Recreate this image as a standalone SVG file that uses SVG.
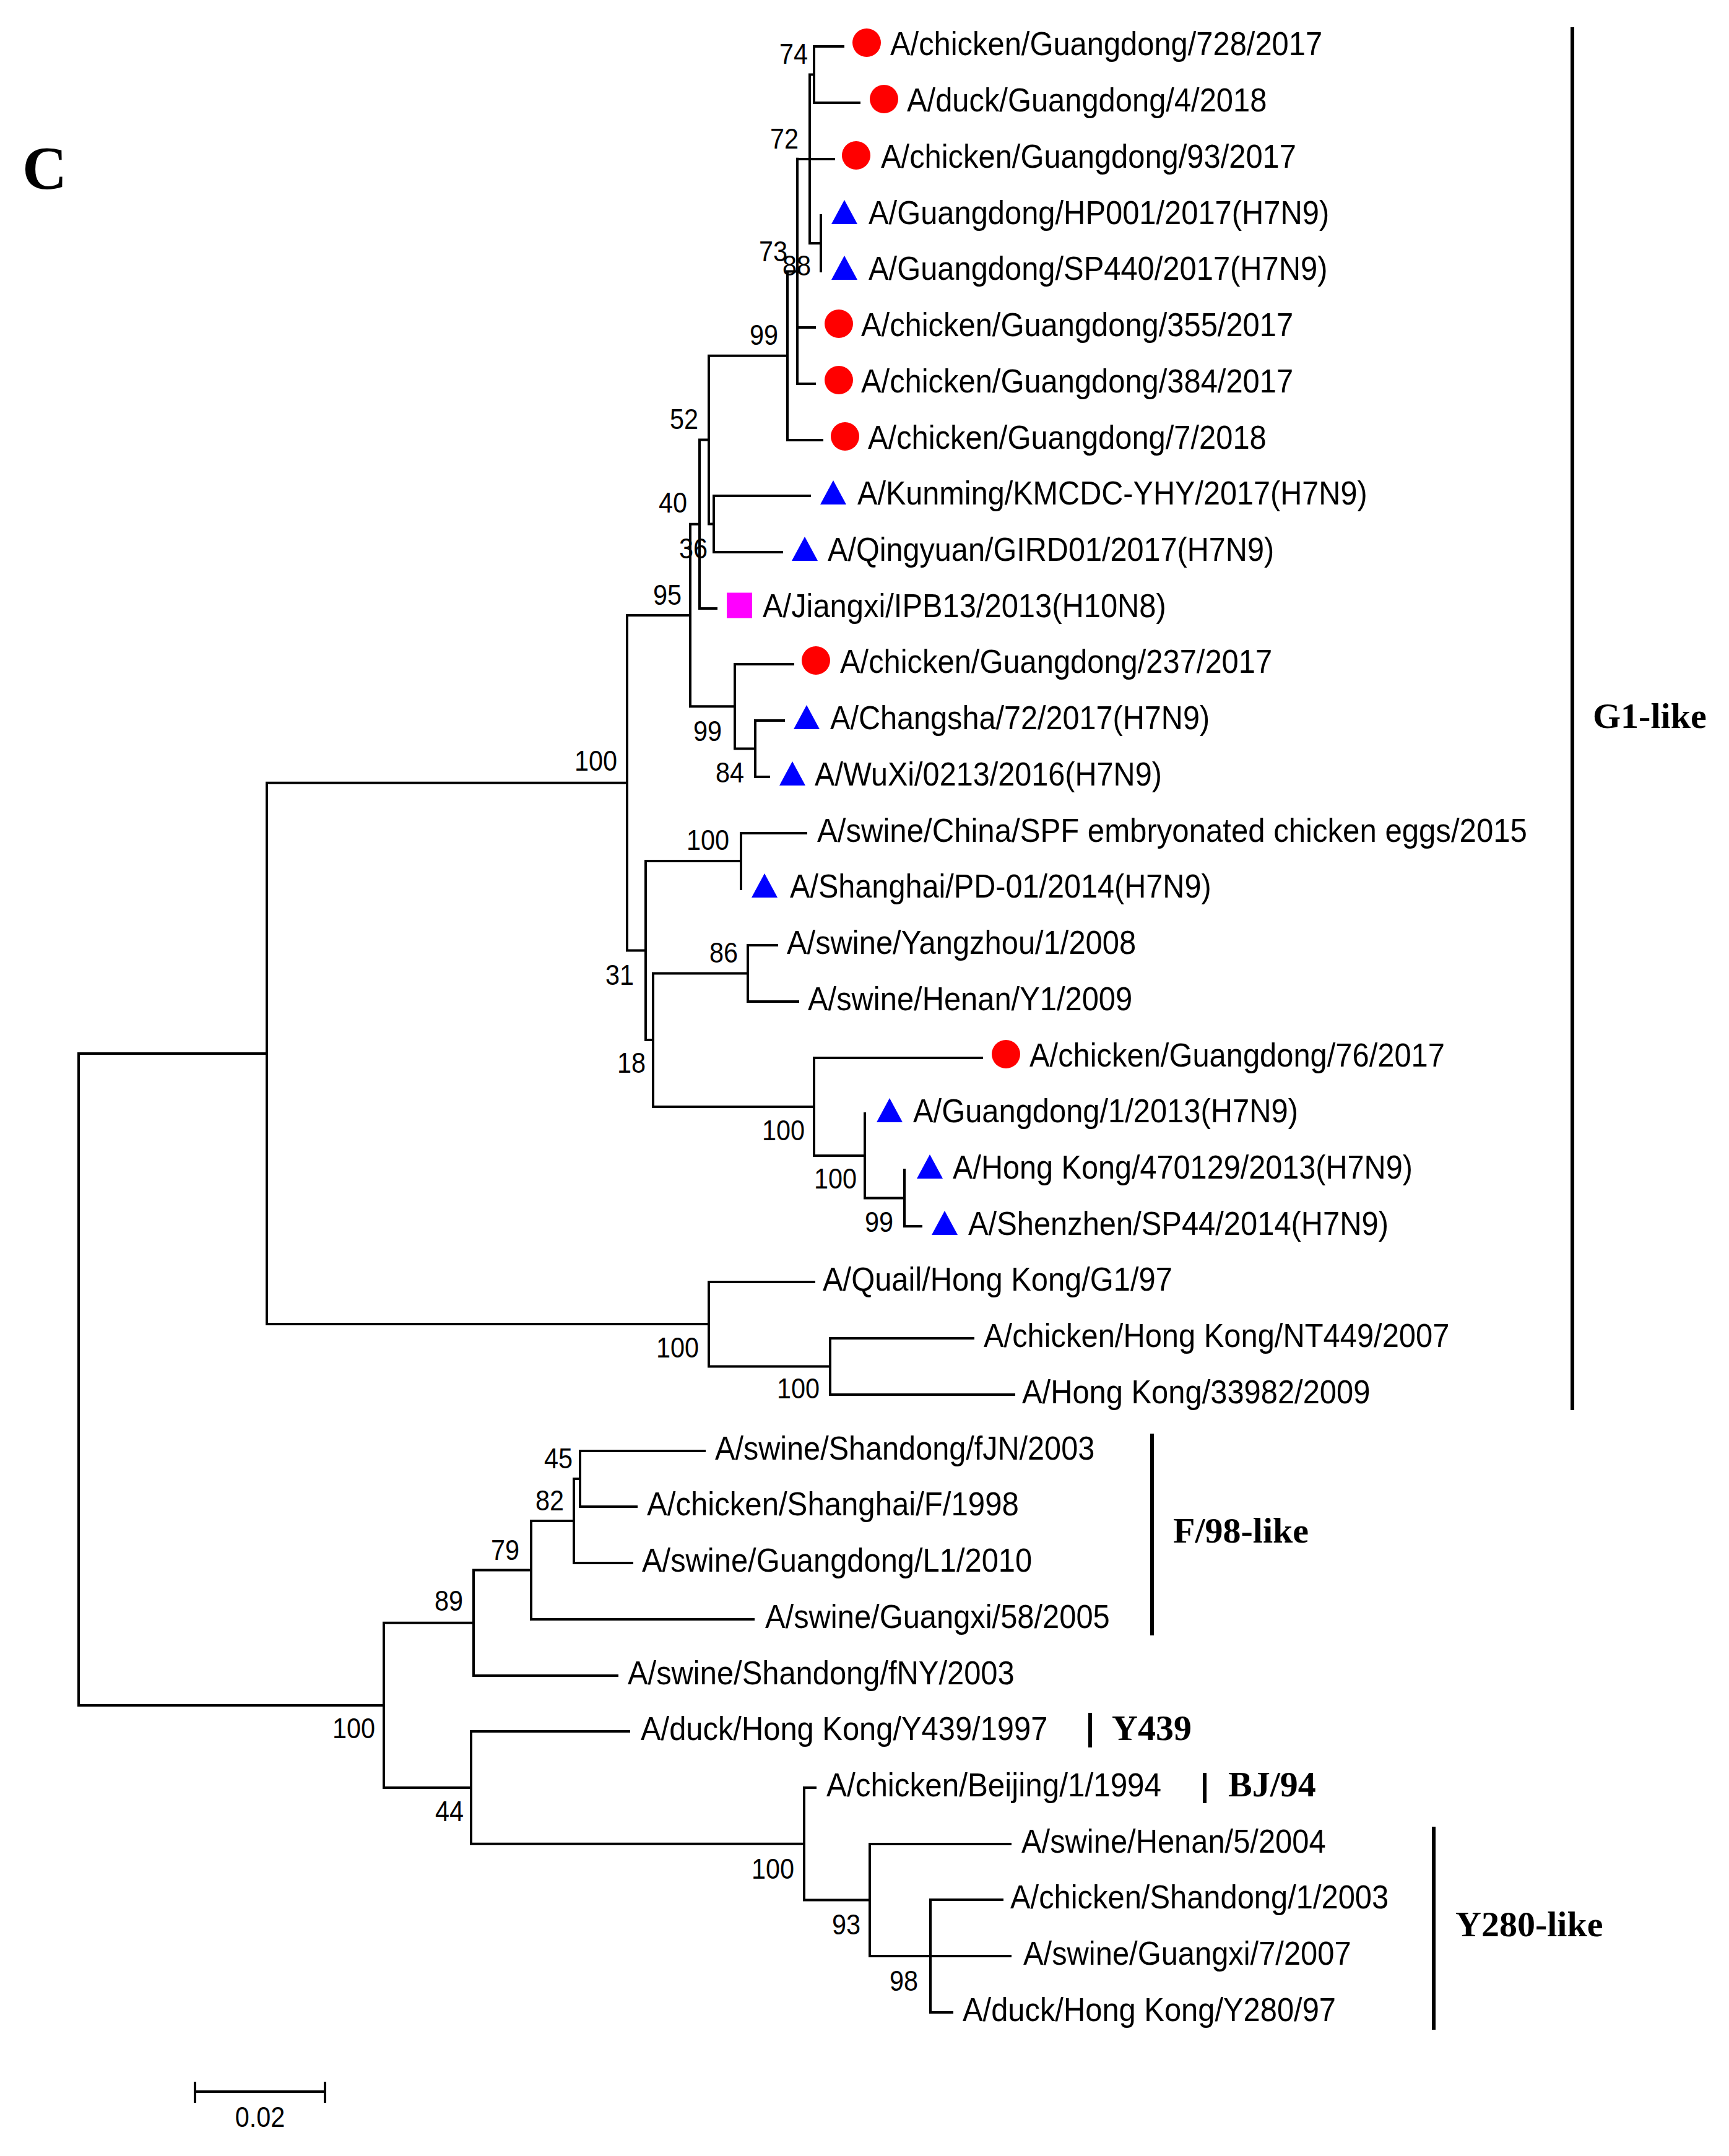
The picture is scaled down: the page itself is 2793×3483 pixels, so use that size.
<svg xmlns="http://www.w3.org/2000/svg" width="2793" height="3483" viewBox="0 0 2793 3483">
<style>
.br{fill:none;stroke:#000;stroke-width:4;stroke-linecap:square}
.bar{fill:none;stroke:#000;stroke-width:6}
.lab{font-family:"Liberation Sans",Arial,sans-serif;font-size:54px;fill:#000}
.bs{font-family:"Liberation Sans",Arial,sans-serif;font-size:46px;fill:#000;text-anchor:end}
.cl{font-family:"Liberation Serif","Times New Roman",serif;font-weight:bold;font-size:58px;fill:#000}
.dot{fill:#ff0000}
.tri{fill:#0000ff}
.sq{fill:#ff00ff}
</style>
<rect width="2793" height="3483" fill="#fff"/>
<text class="cl" style="font-size:100px" x="36" y="305">C</text>
<g id="connectors">
<path class="br" d="M1315 75V166M1315 75H1362M1315 166H1388M1326 348V438M1308 120.5V393M1308 120.5H1315M1308 393H1326M1288 256.8V620M1288 257H1347M1288 529H1316M1288 620H1316M1272 438.4V711M1272 438.4H1288M1272 711H1328M1153 801V892M1153 801H1308M1153 892H1263M1145 574.7V846.5M1145 574.7H1272M1145 846.5H1153M1130 710.6V983M1130 710.6H1145M1130 983H1157M1220 1164V1255M1220 1164H1266M1220 1255H1242M1187 1073V1209.5M1187 1073H1281M1187 1209.5H1220M1115 846.8V1141.2M1115 846.8H1130M1115 1141.2H1187M1197 1346V1436M1197 1346H1302M1208 1527V1618M1208 1527H1255M1208 1618H1289M1461 1890V1981M1461 1981H1488M1397 1799V1935.5M1397 1935.5H1461M1315 1709V1867M1315 1709H1586M1315 1867H1397M1055 1572.5V1788M1055 1572.5H1208M1055 1788H1315M1043 1391V1680M1043 1391H1197M1043 1680H1055M1013 994V1535.5M1013 994H1115M1013 1535.5H1043M1341 2162V2253M1341 2162H1572M1341 2253H1638M1145 2071V2207.5M1145 2071H1315M1145 2207.5H1341M431 1264.7V2139M431 1264.7H1013M431 2139H1145M937 2344V2434M937 2344H1138M937 2434H1028M927 2389V2525M927 2389H937M927 2525H1021M858 2457V2616M858 2457H927M858 2616H1217M765 2536.5V2707M765 2536.5H858M765 2707H997M1503 3069V3251M1503 3069H1619M1503 3251H1538M1405 2979V3160M1405 2979H1632M1405 3160H1632M1299 2888V3069.5M1299 2888H1317M1299 3069.5H1405M761 2797V2978.8M761 2797H1016M761 2978.8H1299M620 2621.8V2888M620 2621.8H765M620 2888H761M127 1701.9V2755M127 1701.9H431M127 2755H620"/>
</g>
<g id="leaf1"><circle class="dot" cx="1400" cy="69" r="23"/><text class="lab" transform="translate(1438 88.5) scale(0.905 1)">A/chicken/Guangdong/728/2017</text></g>
<g id="leaf2"><circle class="dot" cx="1428" cy="160" r="23"/><text class="lab" transform="translate(1465 179.5) scale(0.905 1)">A/duck/Guangdong/4/2018</text></g>
<g id="leaf3"><circle class="dot" cx="1383" cy="251" r="23"/><text class="lab" transform="translate(1423 270.5) scale(0.905 1)">A/chicken/Guangdong/93/2017</text></g>
<g id="leaf4"><polygon class="tri" points="1343,362 1385,362 1364,323"/><text class="lab" transform="translate(1403 361.5) scale(0.905 1)">A/Guangdong/HP001/2017(H7N9)</text></g>
<g id="leaf5"><polygon class="tri" points="1343,452 1385,452 1364,413"/><text class="lab" transform="translate(1403 451.5) scale(0.905 1)">A/Guangdong/SP440/2017(H7N9)</text></g>
<g id="leaf6"><circle class="dot" cx="1355" cy="523" r="23"/><text class="lab" transform="translate(1391 542.5) scale(0.905 1)">A/chicken/Guangdong/355/2017</text></g>
<g id="leaf7"><circle class="dot" cx="1355" cy="614" r="23"/><text class="lab" transform="translate(1391 633.5) scale(0.905 1)">A/chicken/Guangdong/384/2017</text></g>
<g id="leaf8"><circle class="dot" cx="1365" cy="705" r="23"/><text class="lab" transform="translate(1402 724.5) scale(0.905 1)">A/chicken/Guangdong/7/2018</text></g>
<g id="leaf9"><polygon class="tri" points="1325,815 1367,815 1346,776"/><text class="lab" transform="translate(1385 814.5) scale(0.9 1)">A/Kunming/KMCDC-YHY/2017(H7N9)</text></g>
<g id="leaf10"><polygon class="tri" points="1279,906 1321,906 1300,867"/><text class="lab" transform="translate(1337 905.5) scale(0.9 1)">A/Qingyuan/GIRD01/2017(H7N9)</text></g>
<g id="leaf11"><rect class="sq" x="1174" y="957.5" width="41" height="41"/><text class="lab" transform="translate(1232 996.5) scale(0.905 1)">A/Jiangxi/IPB13/2013(H10N8)</text></g>
<g id="leaf12"><circle class="dot" cx="1318" cy="1067" r="23"/><text class="lab" transform="translate(1357 1086.5) scale(0.905 1)">A/chicken/Guangdong/237/2017</text></g>
<g id="leaf13"><polygon class="tri" points="1282,1178 1324,1178 1303,1139"/><text class="lab" transform="translate(1341 1177.5) scale(0.9 1)">A/Changsha/72/2017(H7N9)</text></g>
<g id="leaf14"><polygon class="tri" points="1259,1269 1301,1269 1280,1230"/><text class="lab" transform="translate(1316 1268.5) scale(0.9 1)">A/WuXi/0213/2016(H7N9)</text></g>
<g id="leaf15"><text class="lab" transform="translate(1320 1359.5) scale(0.91 1)">A/swine/China/SPF embryonated chicken eggs/2015</text></g>
<g id="leaf16"><polygon class="tri" points="1214,1450 1256,1450 1235,1411"/><text class="lab" transform="translate(1276 1449.5) scale(0.9 1)">A/Shanghai/PD-01/2014(H7N9)</text></g>
<g id="leaf17"><text class="lab" transform="translate(1271 1540.5) scale(0.905 1)">A/swine/Yangzhou/1/2008</text></g>
<g id="leaf18"><text class="lab" transform="translate(1305 1631.5) scale(0.905 1)">A/swine/Henan/Y1/2009</text></g>
<g id="leaf19"><circle class="dot" cx="1625" cy="1703" r="23"/><text class="lab" transform="translate(1663 1722.5) scale(0.905 1)">A/chicken/Guangdong/76/2017</text></g>
<g id="leaf20"><polygon class="tri" points="1416,1813 1458,1813 1437,1774"/><text class="lab" transform="translate(1475 1812.5) scale(0.905 1)">A/Guangdong/1/2013(H7N9)</text></g>
<g id="leaf21"><polygon class="tri" points="1481,1904 1523,1904 1502,1865"/><text class="lab" transform="translate(1539 1903.5) scale(0.9 1)">A/Hong Kong/470129/2013(H7N9)</text></g>
<g id="leaf22"><polygon class="tri" points="1505,1995 1547,1995 1526,1956"/><text class="lab" transform="translate(1564 1994.5) scale(0.905 1)">A/Shenzhen/SP44/2014(H7N9)</text></g>
<g id="leaf23"><text class="lab" transform="translate(1329 2084.5) scale(0.905 1)">A/Quail/Hong Kong/G1/97</text></g>
<g id="leaf24"><text class="lab" transform="translate(1589 2175.5) scale(0.905 1)">A/chicken/Hong Kong/NT449/2007</text></g>
<g id="leaf25"><text class="lab" transform="translate(1651 2266.5) scale(0.905 1)">A/Hong Kong/33982/2009</text></g>
<g id="leaf26"><text class="lab" transform="translate(1155 2357.5) scale(0.9 1)">A/swine/Shandong/fJN/2003</text></g>
<g id="leaf27"><text class="lab" transform="translate(1045 2447.5) scale(0.91 1)">A/chicken/Shanghai/F/1998</text></g>
<g id="leaf28"><text class="lab" transform="translate(1037 2538.5) scale(0.905 1)">A/swine/Guangdong/L1/2010</text></g>
<g id="leaf29"><text class="lab" transform="translate(1236 2629.5) scale(0.905 1)">A/swine/Guangxi/58/2005</text></g>
<g id="leaf30"><text class="lab" transform="translate(1014 2720.5) scale(0.905 1)">A/swine/Shandong/fNY/2003</text></g>
<g id="leaf31"><text class="lab" transform="translate(1035 2810.5) scale(0.905 1)">A/duck/Hong Kong/Y439/1997</text></g>
<g id="leaf32"><text class="lab" transform="translate(1335 2901.5) scale(0.915 1)">A/chicken/Beijing/1/1994</text></g>
<g id="leaf33"><text class="lab" transform="translate(1650 2992.5) scale(0.905 1)">A/swine/Henan/5/2004</text></g>
<g id="leaf34"><text class="lab" transform="translate(1632 3082.5) scale(0.905 1)">A/chicken/Shandong/1/2003</text></g>
<g id="leaf35"><text class="lab" transform="translate(1653 3173.5) scale(0.905 1)">A/swine/Guangxi/7/2007</text></g>
<g id="leaf36"><text class="lab" transform="translate(1555 3264.5) scale(0.905 1)">A/duck/Hong Kong/Y280/97</text></g>
<g id="bootstrap">
<text class="bs" transform="translate(1305 103) scale(0.9 1)">74</text>
<text class="bs" transform="translate(1290 240) scale(0.9 1)">72</text>
<text class="bs" transform="translate(1272 422) scale(0.9 1)">73</text>
<text class="bs" transform="translate(1310 445) scale(0.9 1)">88</text>
<text class="bs" transform="translate(1257 557) scale(0.9 1)">99</text>
<text class="bs" transform="translate(1128 693) scale(0.9 1)">52</text>
<text class="bs" transform="translate(1110 828) scale(0.9 1)">40</text>
<text class="bs" transform="translate(1143 902) scale(0.9 1)">36</text>
<text class="bs" transform="translate(1101 977) scale(0.9 1)">95</text>
<text class="bs" transform="translate(997 1245) scale(0.9 1)">100</text>
<text class="bs" transform="translate(1166 1197) scale(0.9 1)">99</text>
<text class="bs" transform="translate(1202 1264) scale(0.9 1)">84</text>
<text class="bs" transform="translate(1178 1373) scale(0.9 1)">100</text>
<text class="bs" transform="translate(1192 1555) scale(0.9 1)">86</text>
<text class="bs" transform="translate(1024 1591) scale(0.9 1)">31</text>
<text class="bs" transform="translate(1043 1733) scale(0.9 1)">18</text>
<text class="bs" transform="translate(1300 1842) scale(0.9 1)">100</text>
<text class="bs" transform="translate(1384 1920) scale(0.9 1)">100</text>
<text class="bs" transform="translate(1443 1990) scale(0.9 1)">99</text>
<text class="bs" transform="translate(1129 2193) scale(0.9 1)">100</text>
<text class="bs" transform="translate(1324 2259) scale(0.9 1)">100</text>
<text class="bs" transform="translate(925 2372) scale(0.9 1)">45</text>
<text class="bs" transform="translate(911 2440) scale(0.9 1)">82</text>
<text class="bs" transform="translate(839 2520) scale(0.9 1)">79</text>
<text class="bs" transform="translate(748 2602) scale(0.9 1)">89</text>
<text class="bs" transform="translate(606 2808) scale(0.9 1)">100</text>
<text class="bs" transform="translate(749 2942) scale(0.9 1)">44</text>
<text class="bs" transform="translate(1283 3035) scale(0.9 1)">100</text>
<text class="bs" transform="translate(1390 3125) scale(0.9 1)">93</text>
<text class="bs" transform="translate(1483 3216) scale(0.9 1)">98</text>
</g>
<g id="clade-G1"><path class="bar" d="M2540 44V2278"/><text class="cl" x="2573" y="1176">G1-like</text></g>
<g id="clade-F98"><path class="bar" d="M1861 2316V2642"/><text class="cl" x="1895" y="2492">F/98-like</text></g>
<g id="clade-Y439"><path class="bar" d="M1761 2767V2823"/><text class="cl" x="1796" y="2811">Y439</text></g>
<g id="clade-BJ94"><path class="bar" d="M1946 2864V2913"/><text class="cl" x="1984" y="2902">BJ/94</text></g>
<g id="clade-Y280"><path class="bar" d="M2316 2951V3279"/><text class="cl" x="2351" y="3128">Y280-like</text></g>
<g id="scalebar"><path class="br" style="stroke-linecap:butt" d="M315 3379H525M315 3363V3397M525 3363V3397"/><text class="bs" style="text-anchor:middle" transform="translate(420 3436) scale(0.9 1)">0.02</text></g>
</svg>
